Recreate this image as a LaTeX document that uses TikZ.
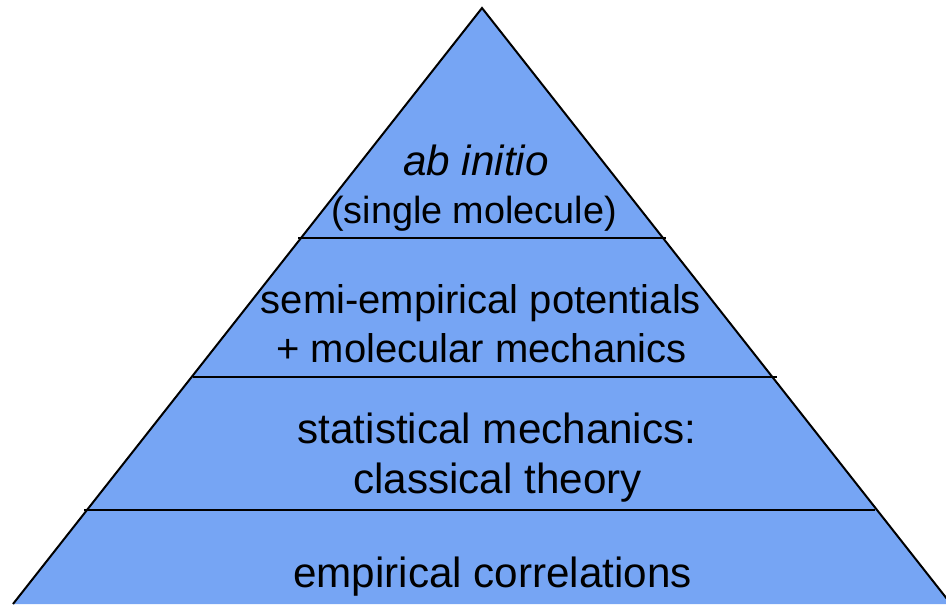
\documentclass[tikz,border=0pt]{standalone}
\usepackage{fontspec}
\setmainfont{Liberation Sans}
\definecolor{pyrfill}{RGB}{118,165,244}
\tikzset{
  txt/.style={anchor=base, inner sep=0pt},
  big/.style={txt, font=\fontsize{21.1pt}{26pt}\selectfont},
  mid/.style={txt, font=\fontsize{20pt}{25pt}\selectfont},
  small/.style={txt, font=\fontsize{18.9pt}{24pt}\selectfont},
  edge/.style={draw=black, line width=1pt}
}
\begin{document}
\begin{tikzpicture}[x=0.5pt,y=-0.5pt]
\useasboundingbox (0,0) rectangle (946,604);
\coordinate (apex) at (482,8);
\coordinate (bl) at (13,604);
\coordinate (br) at (951,604);
\fill[pyrfill] (apex) -- (br) -- (bl) -- cycle;
\draw[edge] (bl) -- (apex) -- (br);
\coordinate (l1a) at (298,238); \coordinate (l1b) at (666,238);
\coordinate (l2a) at (193,377); \coordinate (l2b) at (777,377);
\coordinate (l3a) at (84,510);  \coordinate (l3b) at (875,510);
\draw[edge] (l1a) -- (l1b);
\draw[edge] (l2a) -- (l2b);
\draw[edge] (l3a) -- (l3b);
\node[big] (t1a) at (476,176) {\textit{ab initio}};
\node[small] (t1b) at (474,223) {(single molecule)};
\node[mid] (t2a) at (481,313) {semi-empirical potentials};
\node[mid] (t2b) at (481.5,362) {+ molecular mechanics};
\node[big] (t3a) at (497,443) {statistical mechanics:};
\node[big] (t3b) at (497.5,493) {classical theory};
\node[big] (t4) at (492.5,587) {empirical correlations};
\end{tikzpicture}
\end{document}
